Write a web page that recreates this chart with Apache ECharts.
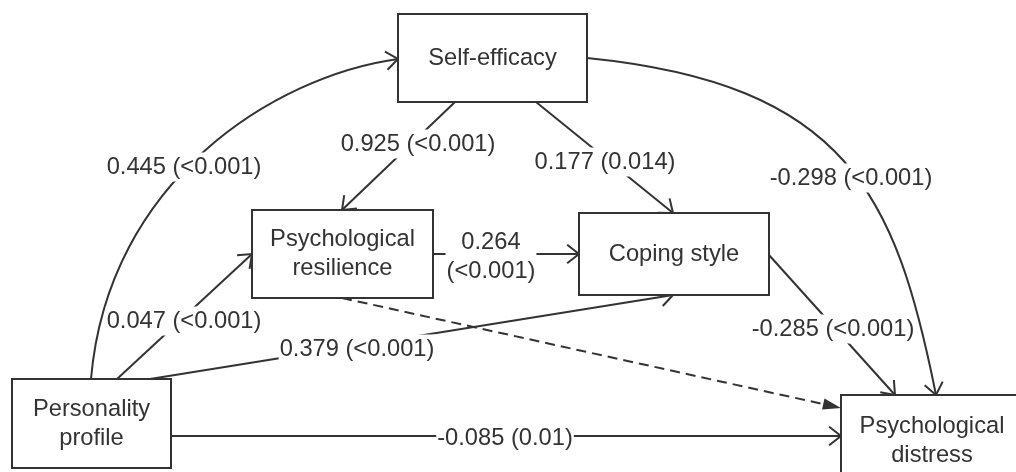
<!DOCTYPE html>
<html>
<head>
<meta charset="utf-8">
<script src="https://cdn.jsdelivr.net/npm/echarts@6/dist/echarts.min.js"></script>
<style>
  html, body { margin: 0; padding: 0; background: #fff; }
  #main { width: 1016px; height: 472px; }
</style>
</head>
<body>
<div id="main"></div>
<script>
// 路径图的内容：变量名、路径系数、p 值
var nodeNames = ['Self-efficacy', 'Psychological\nresilience', 'Coping style', 'Personality\nprofile', 'Psychological\ndistress'];
var edgeFrom = [3, 0, 0, 0, 1, 3, 3, 1, 2, 3];
var edgeTo = [0, 1, 2, 4, 2, 1, 2, 4, 4, 4];
var coefficients = [0.445, 0.925, 0.177, -0.298, 0.264, 0.047, 0.379, null, -0.285, -0.085];
var pValues = ['<0.001', '<0.001', '0.014', '<0.001', '<0.001', '<0.001', '<0.001', null, '<0.001', '0.01'];

// 版面：方框四边（隐藏坐标轴的单位 = 像素）
var nodeLeft = [398, 252, 579, 12, 841];
var nodeTop = [14, 210, 213, 379, 395];
var nodeRight = [587, 433, 769, 171, 1023];
var nodeBottom = [102, 298, 295, 468, 487];

// 连线起点、终点、控制点
var edgeStart = [[91, 379], [455, 102], [536, 102], [587, 58], [433, 254], [117, 379], [150, 379], [342, 298], [769, 255], [171, 436]];
var edgeEnd = [[398, 59], [342, 210], [673, 213], [936, 395], [579, 254], [252, 254], [673, 295], [841, 408], [895, 395], [841, 436]];
var edgeCtrl = [[[108, 180], [275, 76]], null, null, [[847, 84], [896, 195]], null, null, null, null, null, null];
var edgeDashed = [false, false, false, false, false, false, false, true, false, false];
var labelPos = [[184, 167], [418, 144], [605, 162], [851, 178], [491, 257], [184, 321], [357, 349], null, [833, 329], [505, 438]];
var labelWrap = [false, false, false, false, true, false, false, false, false, false];

var FONT = '23.7px "Liberation Sans", Arial, sans-serif';
var INK = '#333';

function edgeText(i) {
	var sep = labelWrap[i] ? '\n' : ' ';
	return coefficients[i].toFixed(3) + sep + '(' + pValues[i] + ')';
}

function renderBox(params, api) {
	var i = params.dataIndex;
	var p0 = api.coord([api.value(0), api.value(1)]);
	var p1 = api.coord([api.value(2), api.value(3)]);
	return {
		type: 'group',
		children: [{
			type: 'rect',
			shape: { x: p0[0], y: p0[1], width: p1[0] - p0[0], height: p1[1] - p0[1] },
			style: { fill: '#fff', stroke: INK, lineWidth: 2 }
		}, {
			type: 'text',
			style: {
				text: nodeNames[i], x: (p0[0] + p1[0]) / 2, y: (p0[1] + p1[1]) / 2,
				align: 'center', verticalAlign: 'middle', font: FONT, fill: INK, lineHeight: 29
			}
		}]
	};
}

function renderEdge(params, api) {
	var i = params.dataIndex;
	var a = api.coord(edgeStart[i]);
	var b = api.coord(edgeEnd[i]);
	var ctrl = edgeCtrl[i];
	var children = [];
	var back;
	if (ctrl) {
		var c1 = api.coord(ctrl[0]);
		var c2 = api.coord(ctrl[1]);
		children.push({
			type: 'bezierCurve',
			shape: { x1: a[0], y1: a[1], x2: b[0], y2: b[1], cpx1: c1[0], cpy1: c1[1], cpx2: c2[0], cpy2: c2[1] },
			style: { fill: null, stroke: INK, lineWidth: 2 }
		});
		back = c2;
	} else {
		children.push({
			type: 'line',
			shape: { x1: a[0], y1: a[1], x2: b[0], y2: b[1] },
			style: { stroke: INK, lineWidth: 2, lineDash: edgeDashed[i] ? [10, 6] : null }
		});
		back = a;
	}
	// 箭头
	var ang = Math.atan2(back[1] - b[1], back[0] - b[0]);
	if (edgeDashed[i]) {
		var L = 19, h = 0.3;
		children.push({
			type: 'polygon',
			shape: { points: [b, [b[0] + L * Math.cos(ang + h), b[1] + L * Math.sin(ang + h)], [b[0] + L * Math.cos(ang - h), b[1] + L * Math.sin(ang - h)]] },
			style: { fill: INK }
		});
	} else {
		var L2 = 15, h2 = 0.66;
		children.push({
			type: 'polyline',
			shape: { points: [[b[0] + L2 * Math.cos(ang + h2), b[1] + L2 * Math.sin(ang + h2)], b, [b[0] + L2 * Math.cos(ang - h2), b[1] + L2 * Math.sin(ang - h2)]] },
			style: { fill: null, stroke: INK, lineWidth: 2 }
		});
	}
	return { type: 'group', children: children };
}

function renderLabel(params, api) {
	var i = params.dataIndex;
	if (!labelPos[i]) return null;
	var p = api.coord(labelPos[i]);
	return {
		type: 'text',
		style: {
			text: edgeText(i), x: p[0], y: p[1], align: 'center', verticalAlign: 'middle',
			font: FONT, fill: INK, lineHeight: 29, backgroundColor: '#fff', padding: [0, 1]
		}
	};
}

var boxData = nodeNames.map(function (n, i) {
	return [nodeLeft[i], nodeTop[i], nodeRight[i], nodeBottom[i]];
});
var edgeData = edgeFrom.map(function (f, i) {
	return [edgeStart[i][0], edgeStart[i][1], edgeEnd[i][0], edgeEnd[i][1]];
});

var myChart = echarts.init(document.getElementById('main'));
myChart.setOption({
	animation: false,
	backgroundColor: '#fff',
	grid: { left: 0, right: 0, top: 0, bottom: 0 },
	xAxis: { type: 'value', min: 0, max: 1016, show: false },
	yAxis: { type: 'value', min: 0, max: 472, inverse: true, show: false },
	series: [{
		type: 'custom', name: 'edges', z: 1,
		renderItem: renderEdge,
		data: edgeData
	}, {
		type: 'custom', name: 'nodes', z: 2,
		renderItem: renderBox,
		data: boxData
	}, {
		type: 'custom', name: 'labels', z: 3,
		renderItem: renderLabel,
		data: edgeData
	}]
});
</script>
</body>
</html>
